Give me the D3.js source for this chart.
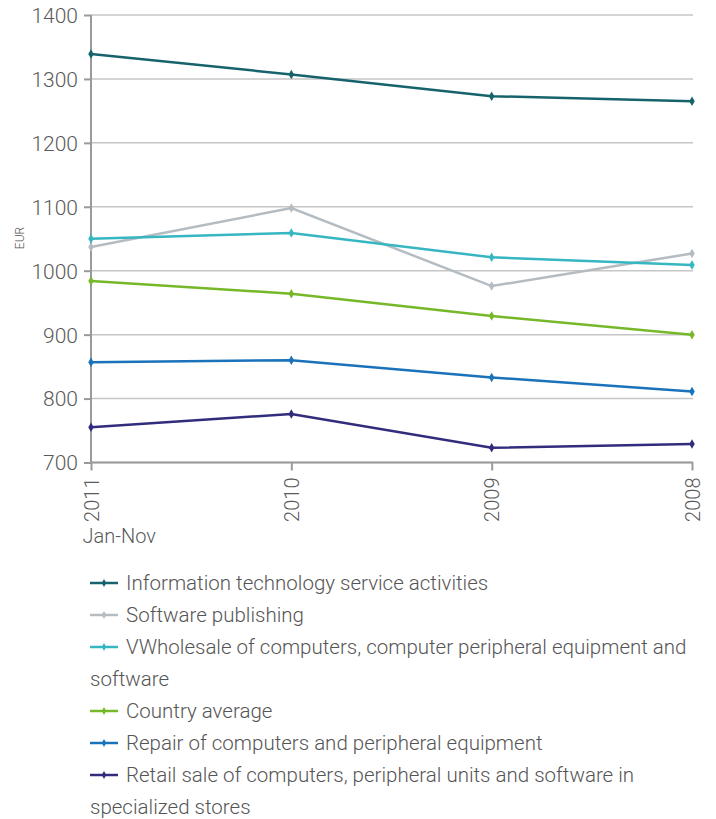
<!DOCTYPE html>
<html><head><meta charset="utf-8">
<script src="https://cdn.jsdelivr.net/npm/d3@7"></script>
<style>body{margin:0;background:#fff}svg{display:block}text{font-family:Roboto,"Liberation Sans",sans-serif;font-weight:300}</style>
</head><body><svg id="c" width="716" height="819"></svg>
<script>
const categories = ["2011\nJan-Nov","2010","2009","2008"];
const yTicks = [700,800,900,1000,1100,1200,1300,1400];
const seriesNames = [
 "Information technology service activities",
 "Software publishing",
 "VWholesale of computers, computer peripheral equipment and software",
 "Country average",
 "Repair of computers and peripheral equipment",
 "Retail sale of computers, peripheral units and software in specialized stores"];
const seriesColors = ["#17636c","#b4bcc2","#36b6c1","#76b82a","#1a72bb","#312c7c"];
const itService = [1339,1307,1273,1265];
const softwarePub = [1037,1098,976,1027];
const wholesale = [1050,1059,1021,1009];
const countryAvg = [984,964,929,900];
const repair = [857,860,833,811];
const retail = [755,776,723,729];
const seriesValues = [itService,softwarePub,wholesale,countryAvg,repair,retail];

const svg = d3.select("#c");
const x = d3.scalePoint().domain(categories).range([91,692]);
const y = d3.scaleLinear().domain([700,1400]).range([462.5,15]);

svg.append("g").selectAll("line").data(yTicks).join("line")
 .attr("x1",91).attr("x2",693).attr("y1",d=>y(d)).attr("y2",d=>y(d))
 .attr("stroke","#c6c6c6").attr("stroke-width",1.5);

const ya = svg.append("g").attr("transform","translate(91,0)")
 .call(d3.axisLeft(y).tickValues(yTicks).tickSize(7).tickPadding(6).tickFormat(d3.format("d")));
ya.select(".domain").attr("stroke","#9a9a9a").attr("stroke-width",2).attr("d","M0,"+y(1400)+"V"+y(700));
ya.selectAll(".tick line").attr("stroke","#9a9a9a").attr("stroke-width",2);
ya.selectAll(".tick text").attr("font-size",21).attr("fill","#5a5a5a").attr("dy","0.35em");

const xa = svg.append("g").attr("transform","translate(0,"+y(700)+")")
 .call(d3.axisBottom(x).tickSize(8).tickFormat(""));
xa.select(".domain").attr("stroke","#9a9a9a").attr("stroke-width",2).attr("d","M91,0H693");
xa.selectAll(".tick line").attr("stroke","#9a9a9a").attr("stroke-width",2);
xa.selectAll(".tick").each(function(d){
  const parts = d.split("\n");
  const g = d3.select(this);
  g.append("text").attr("transform","rotate(-90)").attr("x",-15).attr("y",0)
   .attr("dy","0.35em").attr("text-anchor","end").attr("font-size",20).attr("fill","#5a5a5a").text(parts[0]);
  if(parts[1]) g.append("text").attr("x",-9).attr("y",80).attr("text-anchor","start")
   .attr("font-size",20).attr("fill","#5a5a5a").text(parts[1]);
});

svg.append("text").attr("transform","translate(24,238) rotate(-90)").attr("text-anchor","middle")
 .attr("font-size",12).attr("fill","#555").text("EUR");

const line = d3.line().x((d,i)=>x(categories[i])).y(d=>y(d));
const diamond = d3.symbol().type(d3.symbolDiamond).size(26);
seriesValues.forEach((vals,si)=>{
  const g = svg.append("g");
  g.append("path").attr("d",line(vals)).attr("fill","none").attr("stroke",seriesColors[si]).attr("stroke-width",2.5);
  g.selectAll("path.m").data(vals).join("path").attr("class","m")
   .attr("transform",(d,i)=>"translate("+x(categories[i])+","+y(d)+")").attr("d",diamond).attr("fill",seriesColors[si]);
});

let ly = 583;
const lh = 32;
const maxRight = 700;
seriesNames.forEach((name,si)=>{
  const g = svg.append("g");
  g.append("line").attr("x1",90).attr("x2",118).attr("y1",ly).attr("y2",ly).attr("stroke",seriesColors[si]).attr("stroke-width",2.5);
  g.append("path").attr("transform","translate(104,"+ly+")").attr("d",d3.symbol().type(d3.symbolDiamond).size(18)).attr("fill",seriesColors[si]);
  const t = g.append("text").attr("font-size",20.5).attr("fill","#555");
  const words = name.split(" ");
  let lineWords = [], curX = 126, tspan = t.append("tspan").attr("x",126).attr("y",ly).attr("dy","0.35em");
  for(const w of words){
    lineWords.push(w);
    tspan.text(lineWords.join(" "));
    if(curX + tspan.node().getComputedTextLength() > maxRight && lineWords.length>1){
      lineWords.pop(); tspan.text(lineWords.join(" "));
      ly += lh; curX = 90; lineWords=[w];
      tspan = t.append("tspan").attr("x",90).attr("y",ly).attr("dy","0.35em").text(w);
    }
  }
  ly += lh;
});
</script></body></html>
